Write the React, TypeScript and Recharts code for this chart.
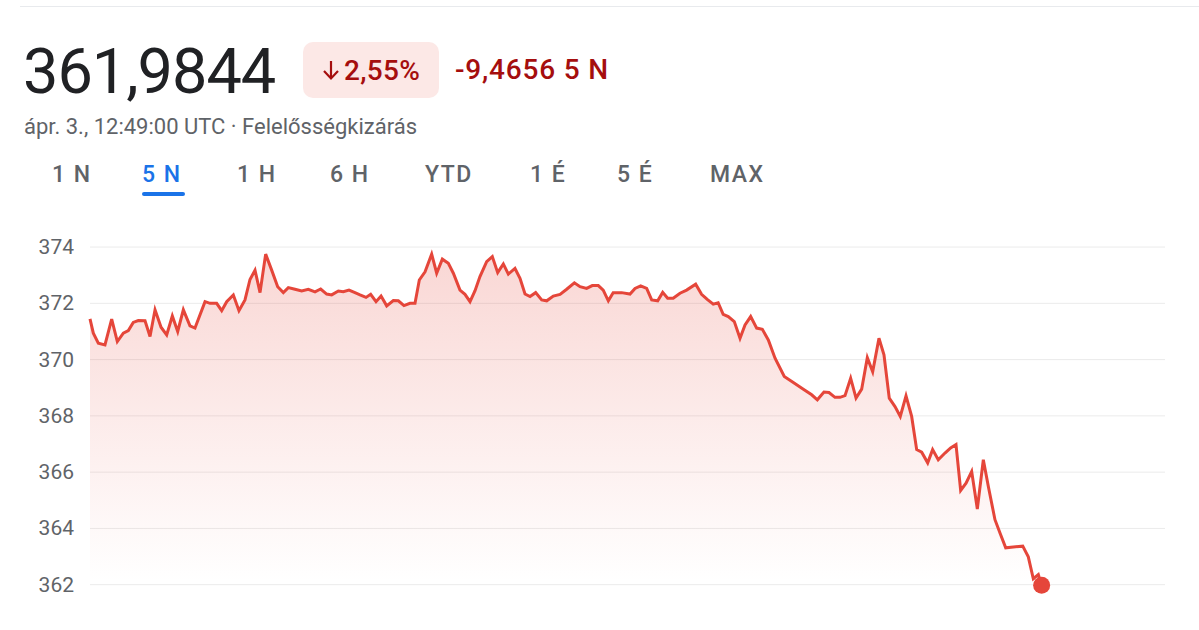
import React from 'react';
import { ComposedChart, Area, XAxis, YAxis, CartesianGrid } from 'recharts';

// hours since start of the 5-day window (window = 120 h)
const hours = [
  0, 0.37, 0.93, 1.67, 2.42, 3.05, 3.72, 4.28, 4.83, 5.39, 6.14, 6.7, 7.26, 7.93, 8.56, 9.19, 9.79, 10.42,
  11.16, 11.72, 12.84, 13.4, 14.14, 14.7, 15.26, 16.0, 16.63, 17.3, 17.86, 18.42, 18.98, 19.61, 20.28, 20.95,
  21.58, 22.14, 22.88, 23.63, 24.37, 25.12, 25.75, 26.42, 26.98, 27.72, 28.28, 28.91, 29.58, 30.14, 30.81,
  31.33, 31.93, 32.49, 33.12, 33.86, 34.42, 35.05, 35.72, 36.28, 36.76, 37.4, 38.14, 38.7, 39.33, 40.0, 40.56,
  41.3, 41.86, 42.42, 42.98, 43.53, 44.28, 44.91, 45.51, 46.14, 46.7, 47.44, 48.0, 48.56, 49.12, 49.75, 50.42,
  50.98, 51.72, 52.47, 53.21, 54.07, 54.7, 55.44, 56.07, 56.74, 57.29, 57.86, 58.4, 59.34, 60.28, 60.84,
  61.47, 62.14, 62.7, 63.37, 63.93, 64.48, 65.1, 65.86, 66.6, 67.61, 68.27, 68.9, 69.57, 70.12, 70.68, 71.25,
  71.92, 72.56, 73.12, 73.75, 74.42, 75.05, 75.72, 76.47, 77.5, 78.51, 79.63, 80.56, 81.19, 81.93, 82.49,
  83.16, 83.72, 84.28, 84.91, 85.51, 86.14, 86.77, 87.37, 88.07, 88.63, 89.22, 89.86, 90.45, 91.09, 91.72,
  92.28, 92.84, 93.51, 94.06, 94.69, 95.44, 96.07, 96.67, 97.19, 97.79, 98.42, 99.05, 99.72, 100.28, 101.02,
  101.58, 102.22, 103.07, 104.12, 104.74, 105.3, 105.86, 106.23,
];

const prices = [
  371.45, 370.94, 370.58, 370.52, 371.44, 370.64, 370.94, 371.03, 371.32, 371.39, 371.38, 370.82, 371.77,
  371.15, 370.88, 371.55, 371.0, 371.77, 371.2, 371.12, 372.06, 372.0, 372.0, 371.74, 372.06, 372.3, 371.74,
  372.12, 372.85, 373.18, 372.38, 373.75, 373.18, 372.59, 372.38, 372.56, 372.5, 372.44, 372.5, 372.41,
  372.51, 372.33, 372.3, 372.44, 372.41, 372.47, 372.38, 372.3, 372.21, 372.32, 372.06, 372.26, 371.91,
  372.1, 372.09, 371.92, 372.0, 372.0, 372.83, 373.12, 373.75, 373.07, 373.57, 373.42, 373.07, 372.47,
  372.32, 372.06, 372.45, 372.95, 373.48, 373.66, 373.09, 373.4, 373.04, 373.24, 372.89, 372.33, 372.24,
  372.38, 372.12, 372.09, 372.26, 372.32, 372.5, 372.73, 372.59, 372.53, 372.63, 372.63, 372.47, 372.09,
  372.38, 372.38, 372.33, 372.53, 372.62, 372.53, 372.12, 372.09, 372.39, 372.18, 372.18, 372.36, 372.47,
  372.68, 372.32, 372.14, 371.97, 372.02, 371.61, 371.53, 371.35, 370.76, 371.23, 371.53, 371.12, 371.08,
  370.7, 370.05, 369.4, 369.19, 368.95, 368.75, 368.57, 368.85, 368.83, 368.66, 368.66, 368.72, 369.34,
  368.63, 368.95, 370.07, 369.57, 370.76, 370.17, 368.63, 368.33, 367.98, 368.71, 367.98, 366.8, 366.71,
  366.33, 366.8, 366.44, 366.68, 366.86, 366.98, 365.35, 365.61, 366.02, 364.69, 366.44, 365.49, 364.31,
  363.84, 363.31, 363.34, 363.37, 362.99, 362.21, 362.36, 361.98,
];

const yTicks = [362, 364, 366, 368, 370, 372, 374];
const yDomain = [361.1, 374.5];
const ranges = ['1 N', '5 N', '1 H', '6 H', 'YTD', '1 É', '5 É', 'MAX'];
const activeRange = '5 N';

const lastPrice = '361,9844';
const changePct = '2,55%';
const changeAbs = '-9,4656 5 N';
const subtitle = 'ápr. 3., 12:49:00 UTC · Felelősségkizárás';

const data = hours.map((h, i) => ({ h, price: prices[i] }));

const RED = '#e5463a';
const DARK_RED = '#a50e0e';
const GREY = '#5f6368';
const FONT = 'Roboto, Arial, sans-serif';

const tabX = [52, 142, 237, 330, 425, 530, 617, 710];

function YTick(props: any) {
  const { x, y, payload } = props;
  return (
    <text x={x - 10} y={y} dy={7} textAnchor="end" fill={GREY} fontSize={21} fontFamily={FONT}>
      {payload.value}
    </text>
  );
}

function EndDot(props: any) {
  const { cx, cy, index } = props;
  if (index !== data.length - 1) return <g key={`d-${index}`} />;
  return <circle key={`d-${index}`} cx={cx} cy={cy} r={8.5} fill={RED} />;
}

// grid rows only at the tick values, not at the plot edges
const gridRows = (args: any) => {
  const s = args?.yAxis?.scale;
  if (typeof s === 'function') return yTicks.map((t) => s(t));
  if (s && typeof s.map === 'function') return yTicks.map((t) => s.map(t));
  const { top, height } = args.offset;
  return yTicks.map((t) => top + ((yDomain[1] - t) / (yDomain[1] - yDomain[0])) * height);
};

export default function App() {
  return (
    <div style={{ position: 'absolute', left: 0, top: 0, width: 1199, height: 630, background: '#fff', fontFamily: FONT, overflow: 'hidden' }}>
      <div style={{ position: 'absolute', left: 20, right: 0, top: 6, height: 1, background: '#e8eaed' }} />

      <div style={{ position: 'absolute', left: 23, top: 36, fontSize: 63, color: '#202124', letterSpacing: -1, lineHeight: '72px' }}>
        {lastPrice}
      </div>
      <div style={{ position: 'absolute', left: 303, top: 42, width: 136, height: 56, borderRadius: 10, background: '#fce8e6', color: DARK_RED, fontSize: 28, fontWeight: 500, display: 'flex', alignItems: 'center', justifyContent: 'center', letterSpacing: 0.3 }}>
        <svg width={18} height={22} viewBox="0 0 18 22" style={{ marginRight: 4 }}>
          <line x1={9} y1={2} x2={9} y2={19} stroke={DARK_RED} strokeWidth={2.2} />
          <polyline points="2,12 9,19.5 16,12" fill="none" stroke={DARK_RED} strokeWidth={2.2} />
        </svg>
        {changePct}
      </div>
      <div style={{ position: 'absolute', left: 455, top: 53, fontSize: 28, fontWeight: 500, color: DARK_RED, lineHeight: '34px', letterSpacing: 0.8 }}>
        {changeAbs}
      </div>
      <div style={{ position: 'absolute', left: 24, top: 114, fontSize: 22, color: GREY, lineHeight: '26px' }}>
        {subtitle}
      </div>

      {ranges.map((r, i) => (
        <div key={r} style={{ position: 'absolute', left: tabX[i], top: 160, fontSize: 23, fontWeight: 500, letterSpacing: 1.5, color: r === activeRange ? '#1a73e8' : GREY, lineHeight: '30px' }}>
          {r}
        </div>
      ))}
      <div style={{ position: 'absolute', left: 142, top: 192, width: 43, height: 4, borderRadius: 2, background: '#1a73e8' }} />

      <div style={{ position: 'absolute', left: 0, top: 0 }}>
        <ComposedChart width={1199} height={630} data={data} margin={{ top: 233, right: 34, bottom: 20, left: 30 }}>
          <defs>
            <linearGradient id="fillRed" x1="0" y1="0" x2="0" y2="1">
              <stop offset="0%" stopColor={RED} stopOpacity={0.36} />
              <stop offset="92%" stopColor={RED} stopOpacity={0.0} />
            </linearGradient>
          </defs>
          <CartesianGrid vertical={false} stroke="#ebebeb" horizontalCoordinatesGenerator={gridRows} />
          <XAxis dataKey="h" type="number" domain={[0, 120]} hide />
          <YAxis
            domain={yDomain}
            ticks={yTicks}
            width={60}
            axisLine={false}
            tickLine={false}
            tickMargin={0}
            tick={<YTick />}
          />
          <Area
            type="linear"
            dataKey="price"
            stroke={RED}
            strokeWidth={3}
            fill="url(#fillRed)"
            dot={<EndDot />}
            activeDot={false}
            isAnimationActive={false}
          />
        </ComposedChart>
      </div>
    </div>
  );
}
